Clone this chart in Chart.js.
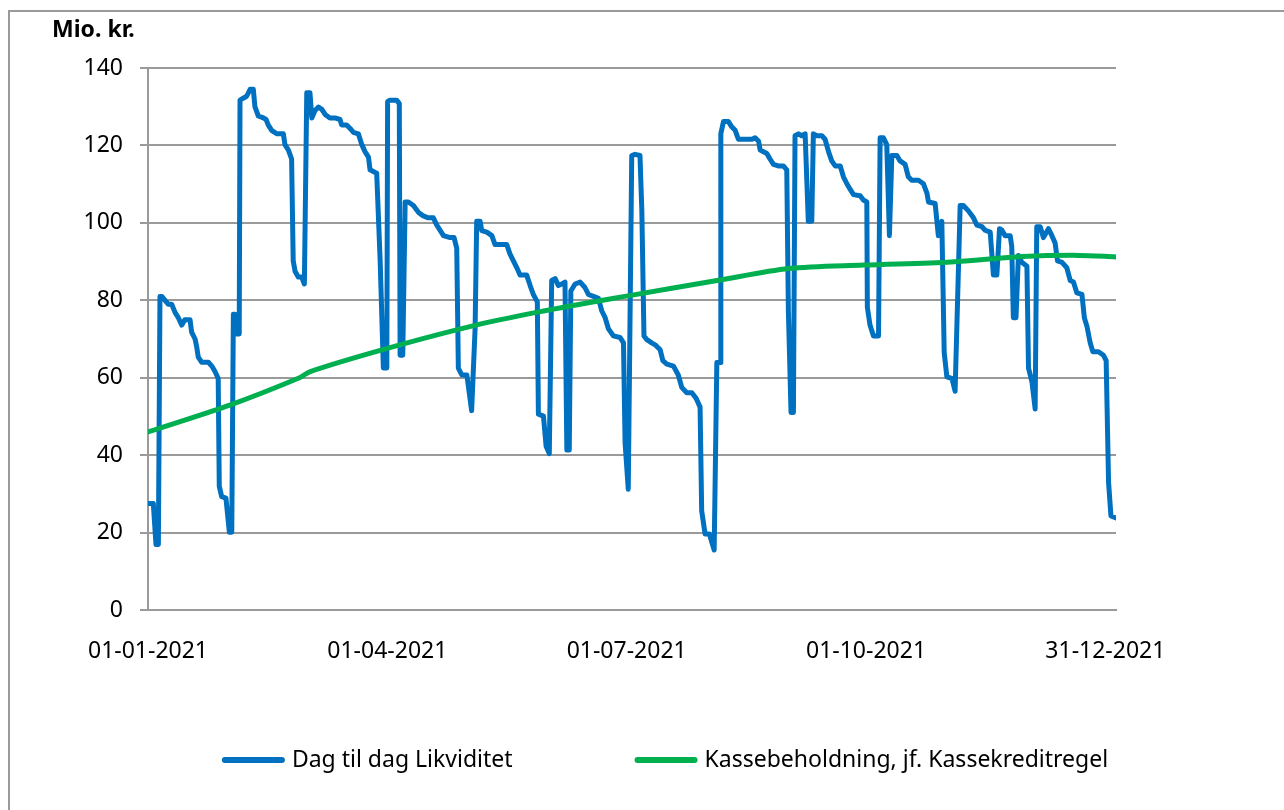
<!DOCTYPE html>
<html>
<head>
<meta charset="utf-8">
<script src="https://cdn.jsdelivr.net/npm/chart.js@4.4.1/dist/chart.umd.min.js"></script>
<style>
    html, body { margin: 0; padding: 0; background: #ffffff; }
</style>
</head>
<body>
<canvas id="likviditetChart" width="1284" height="810"></canvas>
<script>
// x = dag nr. i 2021 (0 = 01-01-2021), y = mio. kr.
const blueDays = [
    0, 2.0, 3.0, 3.9, 4.5, 5.2, 6.4, 7.6, 8.9, 10.2, 11.4, 12.7, 13.9, 15.8, 16.4, 17.7, 18.3, 18.9, 20.2, 22.7,
    24.0, 25.2, 26.4, 26.8, 27.7, 29.3, 30.6, 31.5, 32.1, 32.7, 33.4, 34.3, 34.6, 35.8, 37.1, 38.4, 39.6, 40.2, 41.5, 43.4,
    44.4, 45.2, 46.5, 48.4, 50.9, 51.5, 52.8, 54.0, 54.6, 55.3, 56.5, 57.8, 58.8, 59.7, 60.9, 61.6, 62.8, 64.1, 65.3, 66.6,
    68.4, 70.3, 72.2, 72.8, 74.7, 76.0, 77.2, 79.1, 80.4, 81.6, 82.9, 83.5, 86.0, 87.3, 88.5, 89.8, 90.1, 91.0, 93.5, 94.5,
    94.8, 95.8, 96.7, 97.9, 99.8, 101.7, 103.5, 105.4, 107.3, 108.6, 109.8, 111.1, 113.6, 115.1, 116.1, 116.7, 118.0, 119.9, 121.7, 123.0,
    123.6, 124.9, 125.5, 127.4, 129.3, 130.5, 134.9, 136.1, 137.4, 138.7, 139.9, 142.4, 143.7, 144.9, 146.4, 146.8, 148.7, 149.7, 150.9, 151.8,
    153.1, 154.3, 155.6, 156.8, 157.5, 158.4, 159.0, 160.6, 162.5, 164.3, 165.6, 167.5, 169.4, 170.6, 171.9, 173.1, 175.0, 177.5, 178.8, 179.4,
    180.6, 181.9, 183.1, 185.0, 185.7, 186.5, 187.5, 189.4, 190.7, 192.6, 193.6, 195.1, 197.6, 199.4, 200.7, 202.6, 204.5, 206.1, 207.6, 208.2,
    209.5, 211.1, 212.9, 213.9, 215.1, 215.4, 216.4, 218.2, 219.5, 220.8, 222.0, 227.1, 228.3, 229.6, 230.2, 232.7, 233.9, 235.2, 237.0, 238.9,
    240.2, 240.8, 241.8, 242.7, 243.3, 244.6, 245.8, 247.1, 248.3, 249.6, 250.2, 251.5, 253.4, 254.6, 255.9, 257.1, 258.4, 260.3, 261.5, 262.8,
    264.0, 265.3, 267.8, 269.0, 270.3, 270.5, 271.5, 272.8, 274.7, 275.3, 276.5, 277.8, 278.8, 279.7, 281.6, 282.8, 284.7, 285.9, 287.2, 289.7,
    291.6, 292.9, 293.5, 296.0, 296.6, 297.2, 298.5, 299.4, 300.4, 302.3, 303.5, 305.4, 306.6, 308.5, 310.4, 311.7, 313.6, 314.8, 316.7, 317.9,
    319.2, 320.2, 321.1, 322.3, 324.2, 324.8, 325.4, 326.4, 327.3, 328.6, 330.5, 331.1, 332.4, 333.6, 334.2, 335.5, 336.7, 338.6, 339.9, 341.1,
    342.0, 343.7, 345.5, 346.8, 348.0, 349.3, 351.2, 352.1, 353.1, 354.3, 355.3, 357.4, 359.3, 360.3, 361.2, 362.1, 364
];
const blueValues = [
    27.5, 27.5, 16.9, 16.9, 81, 81, 80, 79, 79, 76.8, 75.5, 73.6, 75, 75, 71.8, 70, 68, 65.3, 64, 64,
    63, 61.6, 59.8, 32, 29.3, 28.9, 20.1, 20.1, 76.4, 76.4, 71.3, 71.3, 131.7, 132.2, 132.7, 134.5, 134.5, 130, 127.6, 127.1,
    126.7, 125.3, 123.9, 123, 123, 120.2, 118.8, 116.5, 90.2, 87.5, 86, 86, 84.2, 133.6, 133.6, 127.1, 129, 129.9, 129.4, 128,
    127.1, 127.1, 126.7, 125.3, 125.3, 124.4, 123.4, 123, 120.2, 118.4, 117, 113.7, 112.8, 90.2, 62.5, 62.5, 131.3, 131.7, 131.7, 130.8,
    65.8, 65.8, 105.4, 105.4, 104.5, 102.7, 101.8, 101.3, 101.3, 99.4, 98.1, 96.7, 96.2, 96.2, 93.4, 62.5, 60.7, 60.7, 51.5, 72.7,
    100.4, 100.4, 98, 97.6, 96.7, 94.4, 94.4, 92, 90.2, 88.4, 86.5, 86.5, 83.8, 81.5, 79.6, 50.6, 50.1, 42.3, 40.4, 85.1,
    85.6, 83.8, 84.2, 84.7, 41.3, 41.3, 82.4, 84.2, 84.7, 83.3, 81.5, 81, 80.5, 77.3, 75.5, 72.7, 70.8, 70.4, 69, 43.2,
    31.2, 117.4, 117.7, 117.4, 103.1, 70.8, 69.9, 69, 68.5, 67.2, 64.4, 63.5, 63, 60.7, 57.5, 56.1, 56.1, 54.7, 52.4, 25.6,
    19.6, 19.6, 15.5, 63.9, 63.9, 123, 126.2, 126.2, 124.8, 123.9, 121.6, 121.6, 122, 121.1, 118.8, 117.9, 116.5, 115.1, 114.7, 114.7,
    113.7, 77.3, 51, 51, 122.5, 123, 122.5, 123, 100.4, 100.4, 123, 122.5, 122.5, 121.6, 118.4, 116, 114.7, 114.7, 111.9, 110.1,
    108.7, 107.3, 107, 105.9, 105.4, 78.2, 73.6, 70.8, 70.8, 122, 122, 120.2, 96.7, 117.4, 117.4, 116, 115.1, 111.9, 111, 111,
    110.1, 107.7, 105.4, 105, 100.8, 96.7, 100.4, 66.5, 60.2, 59.8, 56.5, 104.5, 104.5, 103.1, 101.3, 99.4, 99, 98.1, 97.6, 86.5,
    86.5, 98.5, 98.1, 96.7, 96.7, 93.9, 75.5, 75.5, 91.6, 89.8, 88.8, 62.5, 58.9, 51.9, 99, 99, 96.2, 98.5, 96.7, 94.8,
    90.2, 89.8, 88.4, 85.1, 84.7, 81.9, 81.5, 75.5, 73.2, 69, 66.7, 66.7, 65.8, 64.4, 33, 24.3, 23.8
];
const greenDays = [0, 31, 57, 61, 88, 121, 147, 181, 214, 241, 269, 302, 329, 350, 364];
const greenValues = [46, 53, 60, 61.6, 67.2, 73.2, 77, 81.2, 85.1, 88.2, 89.1, 89.9, 91.3, 91.6, 91.2];

const tickDays = [0, 90, 180, 270, 360];
const tickLabels = ['01-01-2021', '01-04-2021', '01-07-2021', '01-10-2021', '31-12-2021'];
const seriesLabels = ['Dag til dag Likviditet', 'Kassebeholdning, jf. Kassekreditregel'];
const seriesColors = ['#0070C0', '#00B050'];

const FONT = "'Noto Sans', 'Open Sans', sans-serif";
const GRID = '#9a9a9a';

function toPoints(days, values) {
    return days.map((d, i) => ({ x: d, y: values[i] }));
}

// hvid baggrund + ramme i toppen og venstre side
const framePlugin = {
    id: 'frame',
    beforeDraw(chart) {
        const ctx = chart.ctx;
        ctx.save();
        ctx.fillStyle = '#ffffff';
        ctx.fillRect(0, 0, chart.width, chart.height);
        ctx.strokeStyle = GRID;
        ctx.lineWidth = 2;
        ctx.beginPath();
        ctx.moveTo(9, chart.height);
        ctx.lineTo(9, 11);
        ctx.lineTo(chart.width, 11);
        ctx.stroke();
        ctx.restore();
    }
};

// enhed over y-aksen
const unitPlugin = {
    id: 'unitLabel',
    afterDraw(chart) {
        const ctx = chart.ctx;
        ctx.save();
        ctx.font = "bold 23px " + FONT;
        ctx.fillStyle = '#000000';
        ctx.textBaseline = 'middle';
        ctx.fillText('Mio. kr.', 52, 30);
        ctx.restore();
    }
};

// forklaring nederst (linjestykke + tekst)
const legendPlugin = {
    id: 'lineLegend',
    afterDraw(chart) {
        const ctx = chart.ctx;
        const lineLen = 60, gap = 10, itemGap = 122, y = 760, center = 665;
        ctx.save();
        ctx.font = "23px " + FONT;
        const widths = chart.data.datasets.map(ds => lineLen + gap + ctx.measureText(ds.label).width);
        const total = widths.reduce((a, b) => a + b, 0) + itemGap * (widths.length - 1);
        let x = center - total / 2;
        chart.data.datasets.forEach((ds, i) => {
            ctx.strokeStyle = ds.borderColor;
            ctx.lineWidth = 6;
            ctx.lineCap = 'round';
            ctx.beginPath();
            ctx.moveTo(x + 3, y);
            ctx.lineTo(x + lineLen, y);
            ctx.stroke();
            ctx.fillStyle = '#000000';
            ctx.textBaseline = 'middle';
            ctx.fillText(ds.label, x + lineLen + gap, y);
            x += widths[i] + itemGap;
        });
        ctx.restore();
    }
};

const ctx = document.getElementById('likviditetChart');
new Chart(ctx, {
    type: 'line',
    data: {
        datasets: [
            {
                label: seriesLabels[0],
                data: toPoints(blueDays, blueValues),
                borderColor: seriesColors[0],
                backgroundColor: seriesColors[0],
                borderWidth: 5,
                pointRadius: 0,
                tension: 0,
                borderJoinStyle: 'round',
                borderCapStyle: 'round',
                order: 1
            },
            {
                label: seriesLabels[1],
                data: toPoints(greenDays, greenValues),
                borderColor: seriesColors[1],
                backgroundColor: seriesColors[1],
                borderWidth: 5,
                pointRadius: 0,
                tension: 0.3,
                borderJoinStyle: 'round',
                borderCapStyle: 'round',
                order: 0
            }
        ]
    },
    options: {
        responsive: false,
        animation: false,
        layout: {
            padding: { top: 68, left: 0, right: 168, bottom: 120 }
        },
        plugins: {
            legend: { display: false },
            tooltip: { enabled: false }
        },
        scales: {
            x: {
                type: 'linear',
                min: 0,
                max: 364,
                afterBuildTicks: (scale) => {
                    scale.ticks = tickDays.map(v => ({ value: v }));
                },
                afterFit: (scale) => { scale.height = 80; },
                ticks: {
                    autoSkip: false,
                    maxRotation: 0,
                    padding: 28,
                    color: '#000000',
                    font: { family: FONT, size: 23 },
                    callback: (v) => tickLabels[tickDays.indexOf(v)]
                },
                grid: { display: false, drawTicks: false },
                border: { display: true, color: GRID, width: 2 }
            },
            y: {
                min: 0,
                max: 140,
                afterFit: (scale) => { scale.width = 148; },
                ticks: {
                    stepSize: 20,
                    padding: 17,
                    color: '#000000',
                    font: { family: FONT, size: 23 }
                },
                grid: { color: GRID, lineWidth: 2, tickLength: 8 },
                border: { display: true, color: GRID, width: 2 }
            }
        }
    },
    plugins: [framePlugin, unitPlugin, legendPlugin]
});
</script>
</body>
</html>
